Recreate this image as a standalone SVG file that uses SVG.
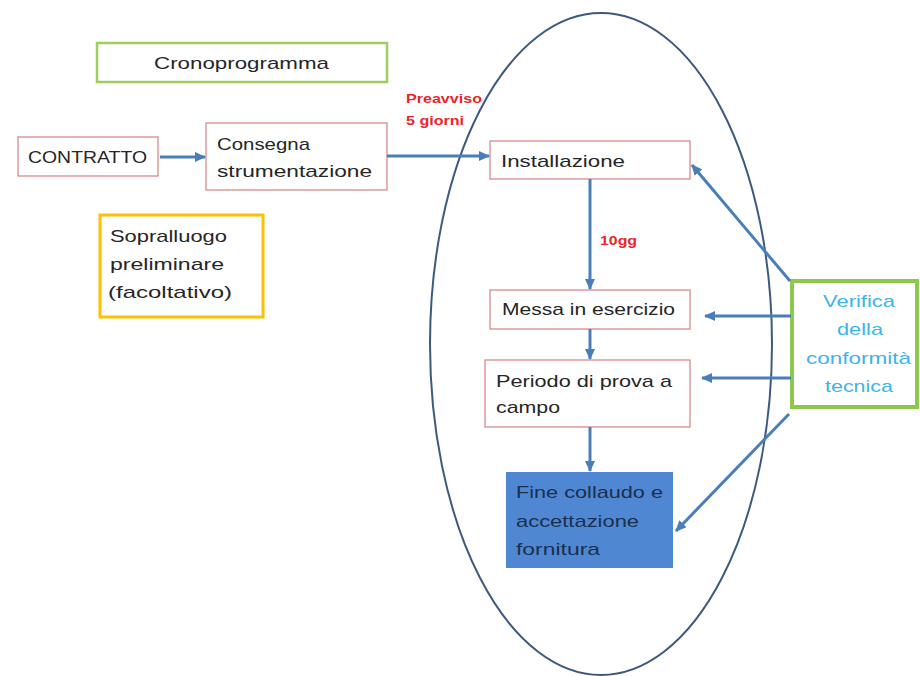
<svg xmlns="http://www.w3.org/2000/svg" width="920" height="676" viewBox="0 0 920 676">
<style>
.t{font-family:"Liberation Sans",Arial,sans-serif;font-size:17px;fill:#262626}
.box{fill:#fff;stroke:#d98a8c;stroke-width:1.3}
.red{font-family:"Liberation Sans",Arial,sans-serif;font-size:12px;font-weight:bold;fill:#e8262a}
.blue{font-family:"Liberation Sans",Arial,sans-serif;font-size:17px;fill:#3db4ea}
.dark{font-family:"Liberation Sans",Arial,sans-serif;font-size:17px;fill:#1a3050}
.arr{stroke:#4a7ebb;stroke-width:3;fill:none;marker-end:url(#ah)}
</style>
<defs>
<marker id="ah" markerUnits="userSpaceOnUse" markerWidth="12" markerHeight="10" refX="10" refY="5" orient="auto">
<path d="M0,0 L11,5 L0,10 Z" fill="#4a7ebb"/>
</marker>
</defs>
<rect width="920" height="676" fill="#fff"/>
<ellipse id="ellipse" cx="601" cy="344" rx="171" ry="331" fill="none" stroke="#3d5a7e" stroke-width="2"/>
<g id="cronoprogramma">
<rect x="97" y="43" width="290" height="39" fill="#fff" stroke="#9bcf5f" stroke-width="2.5"/>
<text class="t" x="154" y="69" textLength="175" lengthAdjust="spacingAndGlyphs">Cronoprogramma</text>
</g>
<g id="contratto">
<rect class="box" x="18" y="137" width="140" height="39"/>
<text class="t" x="28" y="163" textLength="119" lengthAdjust="spacingAndGlyphs">CONTRATTO</text>
</g>
<g id="consegna">
<rect class="box" x="206" y="123" width="181" height="67"/>
<text class="t" x="217" y="150" textLength="93" lengthAdjust="spacingAndGlyphs">Consegna</text>
<text class="t" x="217" y="177" textLength="155" lengthAdjust="spacingAndGlyphs">strumentazione</text>
</g>
<g id="sopralluogo">
<rect x="100" y="215" width="163" height="102" fill="#fff" stroke="#ffc000" stroke-width="3"/>
<text class="t" x="110" y="242" textLength="117" lengthAdjust="spacingAndGlyphs">Sopralluogo</text>
<text class="t" x="110" y="270" textLength="114" lengthAdjust="spacingAndGlyphs">preliminare</text>
<text class="t" x="108" y="298" textLength="124" lengthAdjust="spacingAndGlyphs">(facoltativo)</text>
</g>
<g id="installazione">
<rect class="box" x="490" y="141" width="200" height="38"/>
<text class="t" x="501" y="167" textLength="124" lengthAdjust="spacingAndGlyphs">Installazione</text>
</g>
<g id="messa">
<rect class="box" x="490" y="290" width="200" height="39"/>
<text class="t" x="502" y="315" textLength="173" lengthAdjust="spacingAndGlyphs">Messa in esercizio</text>
</g>
<g id="periodo">
<rect class="box" x="485" y="360" width="205" height="67"/>
<text class="t" x="496" y="387" textLength="176" lengthAdjust="spacingAndGlyphs">Periodo di prova a</text>
<text class="t" x="496" y="413" textLength="64" lengthAdjust="spacingAndGlyphs">campo</text>
</g>
<g id="fine">
<rect x="506" y="472" width="167" height="96" fill="#4f87d2"/>
<text class="dark" x="516" y="498" textLength="147" lengthAdjust="spacingAndGlyphs">Fine collaudo e</text>
<text class="dark" x="516" y="527" textLength="123" lengthAdjust="spacingAndGlyphs">accettazione</text>
<text class="dark" x="516" y="555" textLength="84" lengthAdjust="spacingAndGlyphs">fornitura</text>
</g>
<g id="verifica">
<rect x="792" y="281" width="125" height="126" fill="#fff" stroke="#8cc84b" stroke-width="4"/>
<text class="blue" x="823" y="307" textLength="72" lengthAdjust="spacingAndGlyphs">Verifica</text>
<text class="blue" x="837" y="335" textLength="46" lengthAdjust="spacingAndGlyphs">della</text>
<text class="blue" x="806" y="364" textLength="105" lengthAdjust="spacingAndGlyphs">conformità</text>
<text class="blue" x="825" y="392" textLength="68" lengthAdjust="spacingAndGlyphs">tecnica</text>
</g>
<g id="connectors">
<line class="arr" x1="160" y1="157" x2="205" y2="157"/>
<line class="arr" x1="387" y1="156" x2="489" y2="156"/>
<line class="arr" x1="590" y1="179" x2="590" y2="289"/>
<line class="arr" x1="590" y1="329" x2="590" y2="359"/>
<line class="arr" x1="590" y1="427" x2="590" y2="471"/>
<line class="arr" x1="790" y1="281" x2="692" y2="165"/>
<line class="arr" x1="791" y1="316" x2="705" y2="316"/>
<line class="arr" x1="791" y1="378" x2="702" y2="378"/>
<line class="arr" x1="789" y1="414" x2="676" y2="531"/>
<text class="red" x="406" y="103" textLength="76" lengthAdjust="spacingAndGlyphs">Preavviso</text>
<text class="red" x="406" y="125" textLength="58" lengthAdjust="spacingAndGlyphs">5 giorni</text>
<text class="red" x="600" y="245" textLength="37" lengthAdjust="spacingAndGlyphs">10gg</text>
</g>
</svg>
